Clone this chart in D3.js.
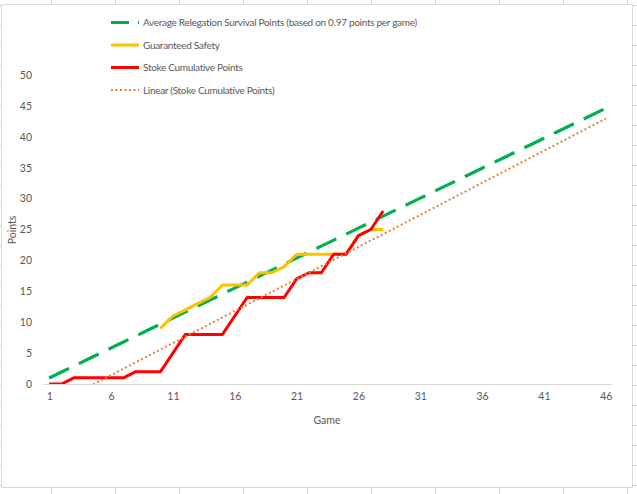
<!DOCTYPE html>
<html><head><meta charset="utf-8">
<script src="https://cdn.jsdelivr.net/npm/d3@7"></script>
<style>
html,body{margin:0;padding:0;background:#fff;}
text{font-family:Lato,"Liberation Sans",sans-serif;fill:#595959;}
</style></head>
<body>
<svg id="c" width="637" height="494"></svg>
<script>
// ---- data ----
const games = d3.range(1, 47); // categories 1..46
const tickGames = [1, 6, 11, 16, 21, 26, 31, 36, 41, 46];
const yTicks = [0, 5, 10, 15, 20, 25, 30, 35, 40, 45, 50];
const survivalPoints = [0.97,1.94,2.91,3.88,4.85,5.82,6.79,7.76,8.73,9.7,10.67,11.64,12.61,13.58,14.55,15.52,16.49,17.46,18.43,19.4,20.37,21.34,22.31,23.28,24.25,25.22,26.19,27.16,28.13,29.1,30.07,31.04,32.01,32.98,33.95,34.92,35.89,36.86,37.83,38.8,39.77,40.74,41.71,42.68,43.65,44.62];
const safetyGames = [10,11,12,13,14,15,16,17,18,19,20,21,22,23,24,25,26,27,28];
const safetyPoints = [9,11,12,13,14,16,16,16,18,18,19,21,21,21,21,21,24,25,25];
const stokeGames = d3.range(1, 29);
const stokePoints = [0,0,1,1,1,1,1,2,2,2,5,8,8,8,8,11,14,14,14,14,17,18,18,21,21,24,25,28];
const legendLabels = ["Average Relegation Survival Points (based on 0.97 points per game)","Guaranteed Safety","Stoke Cumulative Points","Linear (Stoke Cumulative Points)"];

const svg = d3.select("#c");
const W = 637, H = 494;

// spreadsheet background grid
const bg = svg.append("g");
bg.append("rect").attr("width", W).attr("height", H).attr("fill", "#fff");
bg.selectAll("line.v").data(d3.range(51, W, 64)).join("line")
  .attr("x1", d => d + 0.5).attr("x2", d => d + 0.5).attr("y1", 0).attr("y2", H)
  .attr("stroke", "#d4d4d4");
bg.selectAll("line.h").data(d3.range(5, H, 20)).join("line")
  .attr("y1", d => d + 0.5).attr("y2", d => d + 0.5).attr("x1", 0).attr("x2", W)
  .attr("stroke", "#d4d4d4");
// chart area
svg.append("rect").attr("x", 1.5).attr("y", 4.5).attr("width", 631).attr("height", 483)
  .attr("fill", "#fff").attr("stroke", "#d9d9d9");

// scales
const x = d3.scalePoint().domain(games).range([43, 612]).padding(0.5);
const y = d3.scaleLinear().domain([0, 50]).range([384, 75]);

// x axis
const xAxis = svg.append("g").attr("transform", "translate(0,384)")
  .call(d3.axisBottom(x).tickValues(tickGames).tickSize(0).tickPadding(9));
xAxis.select(".domain").attr("stroke", "#d9d9d9").attr("d", "M43,0.5H612");
xAxis.selectAll("text").attr("font-size", "10.5px").style("fill", "#595959");

// y axis (labels only)
const yAxis = svg.append("g").attr("transform", "translate(43,0)")
  .call(d3.axisLeft(y).tickValues(yTicks).tickSize(0).tickPadding(11));
yAxis.select(".domain").remove();
yAxis.selectAll("text").attr("font-size", "10.5px").style("fill", "#595959");

// axis titles
svg.append("text").attr("x", 327).attr("y", 424).attr("text-anchor", "middle")
  .attr("font-size", "10.5px").text("Game");
svg.append("text").attr("transform", "translate(16,230) rotate(-90)")
  .attr("text-anchor", "middle").attr("font-size", "10.5px").text("Points");

// clip
svg.append("clipPath").attr("id", "plot").append("rect")
  .attr("x", 43).attr("y", 70).attr("width", 569).attr("height", 314);

const line = d3.line().x(d => x(d[0])).y(d => y(d[1]));
const g = svg.append("g").attr("clip-path", "url(#plot)");

// green
g.append("path").datum(games.map((gm, i) => [gm, survivalPoints[i]]))
  .attr("d", line).attr("fill", "none").attr("stroke", "#00B050")
  .attr("stroke-width", 3.2).attr("stroke-dasharray", "22,11");
// yellow
g.append("path").datum(safetyGames.map((gm, i) => [gm, safetyPoints[i]]))
  .attr("d", line).attr("fill", "none").attr("stroke", "#FFC000")
  .attr("stroke-width", 3).attr("stroke-linejoin", "round");
// red
g.append("path").datum(stokeGames.map((gm, i) => [gm, stokePoints[i]]))
  .attr("d", line).attr("fill", "none").attr("stroke", "#FF0000")
  .attr("stroke-width", 3).attr("stroke-linejoin", "round");

// linear trendline (least squares of Stoke points)
const mx = d3.mean(stokeGames), my = d3.mean(stokePoints);
const sxy = d3.sum(stokeGames, (gm, i) => (gm - mx) * (stokePoints[i] - my));
const sxx = d3.sum(stokeGames, gm => (gm - mx) * (gm - mx));
const slope = sxy / sxx, icpt = my - slope * mx;
g.append("path").datum([[1, slope * 1 + icpt], [46, slope * 46 + icpt]])
  .attr("d", line).attr("fill", "none").attr("stroke", "#ED7D31")
  .attr("stroke-width", 2).attr("stroke-dasharray", "2,2.5");

// legend
const legY = [22.5, 45, 67.5, 90];
const styles = [
  {c: "#00B050", w: 3.2, dash: "18,9"},
  {c: "#FFC000", w: 3, dash: null},
  {c: "#FF0000", w: 3, dash: null},
  {c: "#ED7D31", w: 2, dash: "2,2.5"}
];
const leg = svg.append("g");
legendLabels.forEach((lab, i) => {
  const s = styles[i];
  leg.append("line").attr("x1", 111).attr("x2", 139).attr("y1", legY[i]).attr("y2", legY[i])
    .attr("stroke", s.c).attr("stroke-width", s.w).attr("stroke-dasharray", s.dash);
  leg.append("text").attr("x", 143).attr("y", legY[i]).attr("dy", "0.35em")
    .attr("font-size", "10px").attr("letter-spacing", "-0.3px").text(lab);
});
</script>
</body></html>
